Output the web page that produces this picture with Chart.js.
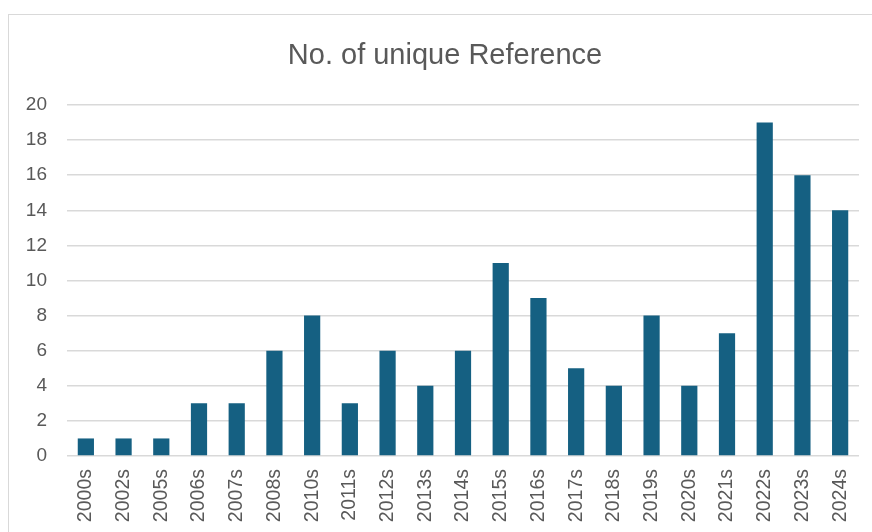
<!DOCTYPE html>
<html>
<head>
<meta charset="utf-8">
<script src="https://cdn.jsdelivr.net/npm/chart.js@4.4.1/dist/chart.umd.min.js"></script>
<style>
  html, body { margin: 0; padding: 0; background: #ffffff; overflow: hidden; }
  #frame { position: absolute; left: 8px; top: 14px; width: 900px; height: 560px; border: 1px solid #d9d9d9; box-sizing: border-box; }
  #wrap { position: absolute; left: 0; top: 0; width: 872px; height: 532px; }
</style>
</head>
<body>
<div id="frame"></div>
<div id="wrap"><canvas id="c" width="872" height="532"></canvas></div>
<script>
const chartTitle = 'No. of unique Reference';
const categories = ["2000s","2002s","2005s","2006s","2007s","2008s","2010s","2011s","2012s","2013s","2014s","2015s","2016s","2017s","2018s","2019s","2020s","2021s","2022s","2023s","2024s"];
const counts = [1,1,1,3,3,6,8,3,6,4,6,11,9,5,4,8,4,7,19,16,14];
const yTicks = [0,2,4,6,8,10,12,14,16,18,20];

const titlePlugin = {
  id: 'frameTitle',
  afterDraw(chart) {
    const ctx = chart.ctx;
    ctx.save();
    ctx.font = 'normal 29px "Liberation Sans"';
    ctx.fillStyle = '#595959';
    ctx.textAlign = 'center';
    ctx.textBaseline = 'alphabetic';
    ctx.fillText(chartTitle, 445, 64);
    ctx.restore();
  }
};

new Chart(document.getElementById('c'), {
  type: 'bar',
  data: {
    labels: categories,
    datasets: [{
      label: chartTitle,
      data: counts,
      backgroundColor: '#156082',
      borderColor: '#156082',
      borderWidth: 0,
      categoryPercentage: 1.0,
      barPercentage: 0.43
    }]
  },
  plugins: [titlePlugin],
  options: {
    responsive: false,
    animation: false,
    devicePixelRatio: 1,
    layout: { padding: { left: 0, right: 13, top: 105, bottom: 0 } },
    plugins: {
      legend: { display: false },
      tooltip: { enabled: false },
      title: { display: false }
    },
    scales: {
      x: {
        grid: { display: false, drawTicks: false },
        border: { display: false },
        ticks: {
          color: '#595959',
          font: { family: 'Liberation Sans', size: 19.5 },
          maxRotation: 90, minRotation: 90,
          padding: 13,
          autoSkip: false
        },
        afterFit: (s) => { s.height = 76; s.paddingRight = 0; s.paddingLeft = 0; }
      },
      y: {
        min: 0, max: 20,
        afterBuildTicks: (s) => { s.ticks = yTicks.map(v => ({ value: v })); },
        grid: { color: '#d9d9d9', lineWidth: 1.5, drawTicks: false },
        border: { display: false },
        ticks: {
          color: '#595959',
          font: { family: 'Liberation Sans', size: 19 },
          padding: 20
        },
        afterFit: (s) => { s.width = 67; }
      }
    }
  }
});
</script>
</body>
</html>
